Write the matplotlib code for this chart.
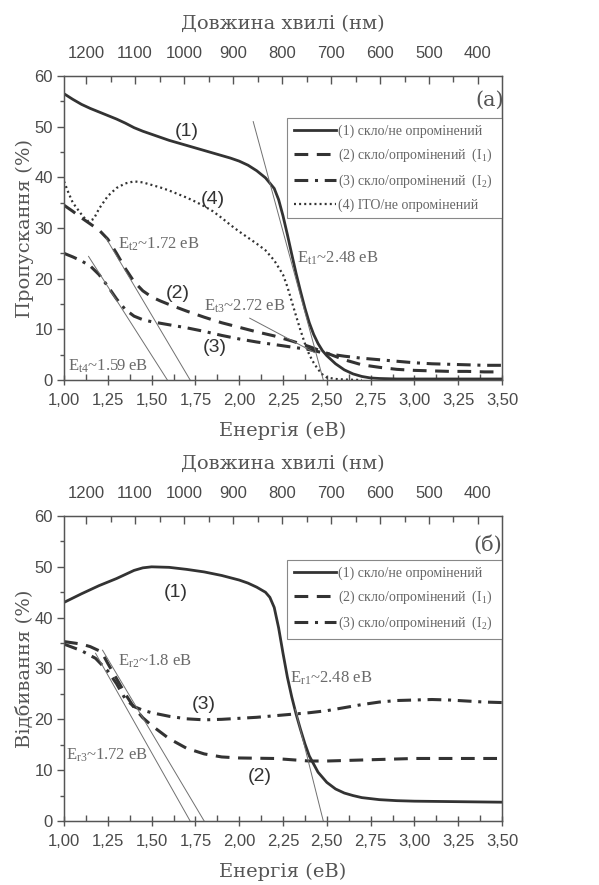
import matplotlib
matplotlib.use("Agg")
import matplotlib.pyplot as plt
from matplotlib.ticker import MultipleLocator, FuncFormatter

# ---------------- data: transmission (top panel) ----------------
E_t1 = [1.00, 1.05, 1.10, 1.15, 1.20, 1.25, 1.30, 1.35, 1.40, 1.45, 1.50, 1.55, 1.60, 1.65, 1.70,
        1.75, 1.80, 1.85, 1.90, 1.95, 2.00, 2.05, 2.10, 2.15, 2.20, 2.225, 2.25, 2.275, 2.30, 2.325,
        2.35, 2.375, 2.40, 2.425, 2.45, 2.475, 2.50, 2.55, 2.60, 2.65, 2.70, 2.75, 2.80, 2.90, 3.00,
        3.25, 3.50]
T_1 = [56.5, 55.4, 54.4, 53.6, 52.9, 52.2, 51.5, 50.7, 49.8, 49.1, 48.5, 47.9, 47.3, 46.8, 46.3,
       45.8, 45.3, 44.8, 44.3, 43.8, 43.2, 42.4, 41.3, 39.9, 37.8, 35.6, 32.4, 28.7, 24.8, 21.0,
       17.5, 14.2, 11.3, 9.0, 7.2, 5.8, 4.8, 3.2, 2.0, 1.2, 0.7, 0.4, 0.3, 0.2, 0.2,
       0.2, 0.2]

E_t2 = [1.00, 1.05, 1.10, 1.15, 1.20, 1.25, 1.30, 1.35, 1.40, 1.45, 1.50, 1.55, 1.60, 1.70, 1.80,
        1.90, 2.00, 2.10, 2.20, 2.30, 2.40, 2.50, 2.60, 2.70, 2.80, 2.90, 3.00, 3.10, 3.20, 3.30,
        3.40, 3.50]
T_2 = [34.5, 33.3, 32.0, 30.8, 29.6, 27.8, 25.0, 22.0, 19.4, 17.6, 16.4, 15.6, 14.9, 13.6, 12.4,
       11.3, 10.4, 9.5, 8.7, 7.7, 6.6, 5.3, 4.0, 3.0, 2.5, 2.1, 1.9, 1.8, 1.7, 1.7,
       1.6, 1.6]

E_t3 = [1.00, 1.05, 1.10, 1.15, 1.20, 1.25, 1.30, 1.35, 1.40, 1.45, 1.50, 1.60, 1.70, 1.80, 1.90,
        2.00, 2.10, 2.20, 2.30, 2.40, 2.50, 2.60, 2.70, 2.80, 2.90, 3.00, 3.10, 3.20, 3.30, 3.40,
        3.50]
T_3 = [25.0, 24.3, 23.5, 22.5, 20.8, 18.5, 16.0, 13.9, 12.6, 11.9, 11.5, 10.9, 10.3, 9.6, 8.8,
       8.1, 7.5, 7.0, 6.5, 6.0, 5.2, 4.7, 4.3, 4.0, 3.7, 3.4, 3.2, 3.1, 3.0, 2.9,
       2.9]

E_t4 = [1.00, 1.025, 1.05, 1.08, 1.11, 1.14, 1.17, 1.20, 1.25, 1.30, 1.35, 1.40, 1.45, 1.50, 1.55,
        1.60, 1.65, 1.70, 1.75, 1.80, 1.85, 1.90, 1.95, 2.00, 2.05, 2.10, 2.15, 2.20, 2.25, 2.275,
        2.30, 2.325, 2.35, 2.375, 2.40, 2.425, 2.45, 2.475, 2.50, 2.55, 2.60, 2.70]
T_4 = [39.2, 37.0, 35.0, 33.6, 32.2, 31.3, 31.8, 33.8, 36.3, 37.9, 38.8, 39.2, 39.0, 38.5, 38.0,
       37.4, 36.7, 36.0, 35.2, 34.3, 33.3, 32.0, 30.6, 29.3, 28.1, 26.9, 25.6, 23.6, 20.8, 18.4,
       15.5, 12.6, 9.8, 7.2, 5.0, 3.4, 2.1, 1.1, 0.5, 0.2, 0.1, 0.0]

# tangent lines (E start, value start, E end, value end)
tangents_top = [(2.08, 51.0, 2.48, 0.0),
                (1.24, 28.0, 1.72, 0.0),
                (1.14, 24.4, 1.59, 0.0),
                (2.06, 12.2, 2.43, 5.4)]

# ---------------- data: reflection (bottom panel) ----------------
E_r1 = [1.00, 1.10, 1.20, 1.30, 1.40, 1.45, 1.50, 1.60, 1.70, 1.80, 1.90, 2.00, 2.05, 2.10, 2.15,
        2.175, 2.20, 2.225, 2.25, 2.275, 2.30, 2.325, 2.35, 2.375, 2.40, 2.45, 2.50, 2.55, 2.60,
        2.65, 2.70, 2.80, 2.90, 3.00, 3.25, 3.50]
R_1 = [43.0, 44.7, 46.3, 47.7, 49.3, 49.8, 50.0, 49.9, 49.5, 49.0, 48.3, 47.4, 46.8, 46.0, 45.0,
       44.0, 42.0, 38.0, 33.0, 28.3, 24.4, 21.0, 18.0, 15.2, 12.8, 9.6, 7.6, 6.3, 5.5,
       5.0, 4.6, 4.2, 4.0, 3.9, 3.8, 3.7]

E_r2 = [1.00, 1.10, 1.15, 1.20, 1.225, 1.25, 1.30, 1.35, 1.40, 1.45, 1.50, 1.60, 1.70, 1.80, 1.90,
        2.00, 2.20, 2.40, 2.50, 2.70, 3.00, 3.25, 3.50]
R_2 = [35.3, 34.8, 34.3, 33.5, 32.6, 31.0, 28.0, 25.0, 22.3, 20.3, 18.8, 16.2, 14.3, 13.2, 12.6,
       12.4, 12.3, 11.8, 11.8, 12.0, 12.3, 12.3, 12.3]

E_r3 = [1.00, 1.10, 1.18, 1.25, 1.30, 1.35, 1.40, 1.45, 1.50, 1.60, 1.70, 1.80, 1.90, 2.00, 2.10,
        2.20, 2.30, 2.40, 2.50, 2.60, 2.70, 2.80, 2.90, 3.00, 3.10, 3.20, 3.30, 3.40, 3.50]
R_3 = [34.8, 33.5, 32.0, 29.5, 27.0, 24.0, 22.5, 21.8, 21.3, 20.6, 20.1, 19.9, 20.0, 20.2, 20.4,
       20.7, 21.0, 21.3, 21.7, 22.3, 22.9, 23.4, 23.7, 23.8, 23.9, 23.8, 23.6, 23.4, 23.3]

tangents_bot = [(2.32, 22.0, 2.48, 0.0),
                (1.22, 33.6, 1.80, 0.0),
                (1.18, 33.0, 1.72, 0.0)]

legend_top = ["(1) скло/не опромінений", r"(2) скло/опромінений  (I$_\mathrm{1}$)",
              r"(3) скло/опромінений  (I$_\mathrm{2}$)", "(4) ITO/не опромінений"]
legend_bot = legend_top[:3]

wl_ticks = [1200, 1100, 1000, 900, 800, 700, 600, 500, 400]

# ---------------- style ----------------
plt.rcParams["mathtext.fontset"] = "custom"
plt.rcParams["mathtext.rm"] = "Liberation Serif"
plt.rcParams["mathtext.it"] = "Liberation Serif:italic"

SERIF = ["Liberation Serif", "DejaVu Serif"]
LABSERIF = ["DejaVu Serif"]
SANS = ["Liberation Sans Narrow", "Liberation Sans", "DejaVu Sans"]
CURVE = "#333333"
THIN = "#707070"
TXT = "#6a6a6a"
AX = "#555555"

styles = {
    "solid": dict(color=CURVE, lw=2.0, linestyle="-"),
    "dash": dict(color=CURVE, lw=2.2, linestyle=(0, (4.5, 2.8))),
    "dashdot": dict(color=CURVE, lw=2.2, linestyle=(0, (4.5, 2.2, 1.0, 2.2))),
    "dot": dict(color=CURVE, lw=1.6, linestyle=(0, (0.9, 1.4))),
}

fig = plt.figure(figsize=(5.99, 8.85), dpi=100)
fig.patch.set_facecolor("white")

# wavelength axis is linear in the original figure
LAM_LEFT, LAM_RIGHT = 1245.0, 351.0


def comma_fmt(x, pos):
    return f"{x:.2f}".replace(".", ",")


def setup(ax, ylabel):
    ax.set_xlim(1.0, 3.5)
    ax.set_ylim(0, 60)
    for s in ax.spines.values():
        s.set_color(AX)
        s.set_linewidth(1.0)
    ax.xaxis.set_major_locator(MultipleLocator(0.25))
    ax.xaxis.set_minor_locator(MultipleLocator(0.125))
    ax.xaxis.set_major_formatter(FuncFormatter(comma_fmt))
    ax.yaxis.set_major_locator(MultipleLocator(10))
    ax.yaxis.set_minor_locator(MultipleLocator(5))
    ax.tick_params(axis="x", which="major", direction="inout", length=7, width=1, colors=AX,
                   labelsize=12, pad=6)
    ax.tick_params(axis="x", which="minor", direction="in", length=4, width=1, colors=AX)
    ax.tick_params(axis="y", which="major", direction="out", length=5, width=1, colors=AX,
                   labelsize=12, pad=3)
    ax.tick_params(axis="y", which="minor", direction="out", length=3, width=1, colors=AX)
    for lab in ax.get_xticklabels() + ax.get_yticklabels():
        lab.set_family(SANS)
        lab.set_color("#4a4a4a")
    ax.set_xlabel("Енергія (еВ)", family=LABSERIF, fontsize=14, color="#555555", labelpad=10)
    ax.set_ylabel(ylabel, family=LABSERIF, fontsize=14, color="#555555", labelpad=0)

    top = ax.twiny()
    top.set_xlim(LAM_LEFT, LAM_RIGHT)
    top.xaxis.set_major_locator(MultipleLocator(100))
    top.xaxis.set_minor_locator(MultipleLocator(50))
    top.tick_params(axis="x", which="major", direction="in", length=6, width=1, colors=AX,
                    labelsize=12, pad=11)
    top.tick_params(axis="x", which="minor", direction="in", length=4, width=1, colors=AX)
    top.set_xticks(wl_ticks)
    for lab in top.get_xticklabels():
        lab.set_family(SANS)
        lab.set_color("#4a4a4a")
    top.set_xlabel("Довжина хвилі (нм)", family=LABSERIF, fontsize=14, color="#555555",
                   labelpad=12)
    for s in top.spines.values():
        s.set_color(AX)
    return top


def legend(ax, labels, handles, bbox):
    leg = ax.legend(handles, labels, loc="upper left", bbox_to_anchor=bbox, mode="expand",
                    prop={"family": SERIF, "size": 10}, frameon=True, fancybox=False,
                    edgecolor="#888888", framealpha=1.0, handlelength=3.0, handletextpad=0.15,
                    labelspacing=0.6, borderaxespad=0.0, borderpad=0.5)
    leg.get_frame().set_linewidth(0.8)
    leg.set_zorder(10)
    for t in leg.get_texts():
        t.set_color("#666666")


# ================= top panel =================
ax1 = fig.add_axes([64 / 599, 1 - 380 / 885, 438 / 599, 304 / 885])
h1, = ax1.plot(E_t1, T_1, **styles["solid"])
h2, = ax1.plot(E_t2, T_2, **styles["dash"])
h3, = ax1.plot(E_t3, T_3, **styles["dashdot"])
h4, = ax1.plot(E_t4, T_4, **styles["dot"])
for (x0, y0, x1, y1) in tangents_top:
    ax1.plot([x0, x1], [y0, y1], color=THIN, lw=0.7)
setup(ax1, "Пропускання (%)")
legend(ax1, legend_top, [h1, h2, h3, h4], (0.509, 0.526, 0.491, 0.336))

ann = dict(family=SERIF, fontsize=12, color=TXT, va="center", ha="left")
ax1.text(2.33, 24.0, r"E$_\mathrm{t1}$~2.48 еВ", **ann)
ax1.text(1.31, 26.8, r"E$_\mathrm{t2}$~1.72 еВ", **ann)
ax1.text(1.80, 14.5, r"E$_\mathrm{t3}$~2.72 еВ", **ann)
ax1.text(1.02, 2.8, r"E$_\mathrm{t4}$~1.59 еВ", **ann)
lab = dict(family=SANS, fontsize=14, color="#333333", ha="center", va="center")
ax1.text(1.70, 49.0, "(1)", **lab)
ax1.text(1.65, 17.0, "(2)", **lab)
ax1.text(1.86, 6.5, "(3)", **lab)
ax1.text(1.85, 35.6, "(4)", **lab)
ax1.text(3.43, 55.3, "(а)", family=LABSERIF, fontsize=15, color="#555555", ha="center",
         va="center")

# ================= bottom panel =================
ax2 = fig.add_axes([64 / 599, 1 - 821 / 885, 438 / 599, 305 / 885])
g1, = ax2.plot(E_r1, R_1, **styles["solid"])
g2, = ax2.plot(E_r2, R_2, **styles["dash"])
g3, = ax2.plot(E_r3, R_3, **styles["dashdot"])
for (x0, y0, x1, y1) in tangents_bot:
    ax2.plot([x0, x1], [y0, y1], color=THIN, lw=0.7)
setup(ax2, "Відбивання (%)")
legend(ax2, legend_bot, [g1, g2, g3], (0.509, 0.597, 0.491, 0.259))

ax2.text(2.29, 28.0, r"E$_\mathrm{r1}$~2.48 еВ", **ann)
ax2.text(1.31, 31.4, r"E$_\mathrm{r2}$~1.8 еВ", **ann)
ax2.text(1.01, 13.0, r"E$_\mathrm{r3}$~1.72 еВ", **ann)
ax2.text(1.64, 45.0, "(1)", **lab)
ax2.text(2.12, 8.8, "(2)", **lab)
ax2.text(1.80, 23.0, "(3)", **lab)
ax2.text(3.42, 54.3, "(б)", family=LABSERIF, fontsize=15, color="#555555", ha="center",
         va="center")

fig.savefig("out.png", dpi=100, facecolor="white")
